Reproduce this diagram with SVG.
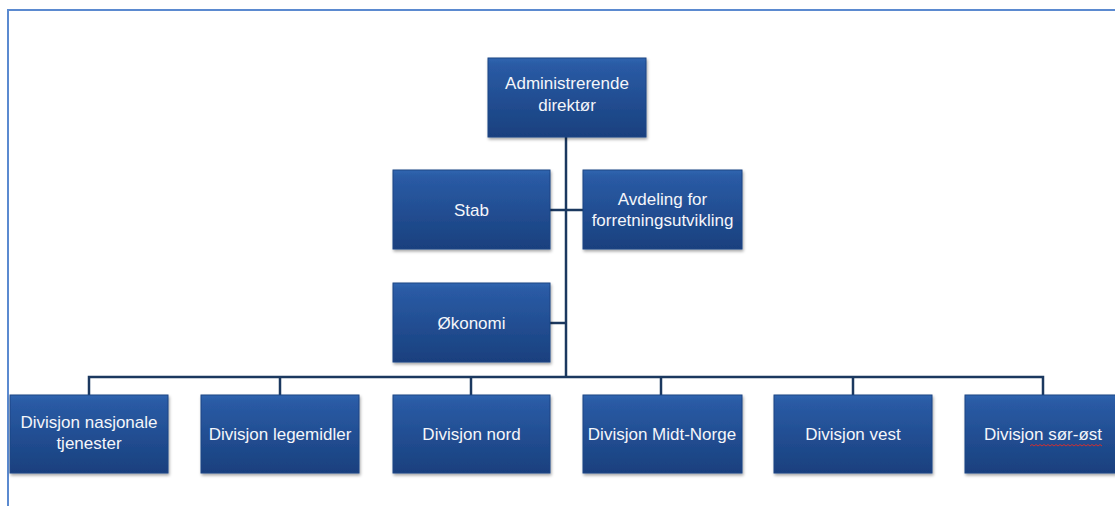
<svg xmlns="http://www.w3.org/2000/svg" width="1115" height="506" viewBox="0 0 1115 506">
<defs>
<linearGradient id="g" x1="0" y1="0" x2="0" y2="1">
<stop offset="0" stop-color="#3066b0"/>
<stop offset="0.08" stop-color="#2a5ba5"/>
<stop offset="1" stop-color="#19407e"/>
</linearGradient>
<filter id="sh" x="-10%" y="-10%" width="125%" height="130%">
<feDropShadow dx="1" dy="2" stdDeviation="1.5" flood-color="#000" flood-opacity="0.35"/>
</filter>
</defs>
<style>
.box{fill:url(#g);stroke:#1d4584;stroke-width:1;filter:url(#sh)}
.t{font-family:"Liberation Sans",Arial,sans-serif;font-size:17px;fill:#f4f6fa;text-anchor:middle}
.c{fill:none;stroke:#1b385f;stroke-width:2.5}
.frame{stroke:#5b8ad0;stroke-width:2;fill:none}
</style>
<rect width="1115" height="506" fill="#ffffff"/>
<path class="frame" d="M8,506 V10 H1115"/>
<g id="connectors">
<path class="c" d="M566,137 V377"/>
<path class="c" d="M550,210 H583"/>
<path class="c" d="M550,323 H566"/>
<path class="c" d="M89,395 V377 H1043 V395"/>
<path class="c" d="M280,377 V395"/>
<path class="c" d="M471,377 V395"/>
<path class="c" d="M661,377 V395"/>
<path class="c" d="M853,377 V395"/>
</g>
<g id="admin"><rect class="box" x="488" y="58" width="158" height="79"/><text class="t" x="567" y="89">Administrerende</text><text class="t" x="567" y="111">direktør</text></g>
<g id="stab"><rect class="box" x="393" y="170" width="157" height="79"/><text class="t" x="471.5" y="216">Stab</text></g>
<g id="avdeling"><rect class="box" x="583" y="170" width="159" height="79"/><text class="t" x="662.5" y="205">Avdeling for</text><text class="t" x="662.5" y="226">forretningsutvikling</text></g>
<g id="okonomi"><rect class="box" x="393" y="283" width="157" height="79"/><text class="t" x="471.5" y="329">Økonomi</text></g>
<g id="div-nasjonale"><rect class="box" x="10" y="395" width="158" height="78"/><text class="t" x="89" y="428">Divisjon nasjonale</text><text class="t" x="89" y="449">tjenester</text></g>
<g id="div-legemidler"><rect class="box" x="201" y="395" width="158" height="78"/><text class="t" x="280" y="440">Divisjon legemidler</text></g>
<g id="div-nord"><rect class="box" x="393" y="395" width="157" height="78"/><text class="t" x="471.5" y="440">Divisjon nord</text></g>
<g id="div-midt"><rect class="box" x="583" y="395" width="159" height="78"/><text class="t" x="662" y="440">Divisjon Midt-Norge</text></g>
<g id="div-vest"><rect class="box" x="774" y="395" width="158" height="78"/><text class="t" x="853" y="440">Divisjon vest</text></g>
<g id="div-sorost"><rect class="box" x="965" y="395" width="157" height="78"/><text class="t" x="1043" y="440">Divisjon sør-øst</text>
<path d="M1030,446 l2,-1.5 l2,1.5 l2,-1.5 l2,1.5 l2,-1.5 l2,1.5 l2,-1.5 l2,1.5 l2,-1.5 l2,1.5 l2,-1.5 l2,1.5 l2,-1.5 l2,1.5 l2,-1.5 l2,1.5 l2,-1.5 l2,1.5 l2,-1.5 l2,1.5 l2,-1.5 l2,1.5 l2,-1.5 l2,1.5 l2,-1.5 l2,1.5 l2,-1.5 l2,1.5 l2,-1.5 l2,1.5 l2,-1.5 l2,1.5 l2,-1.5 l2,1.5 l2,-1.5 l2,1.5" fill="none" stroke="#d03030" stroke-width="1"/></g>
</svg>
